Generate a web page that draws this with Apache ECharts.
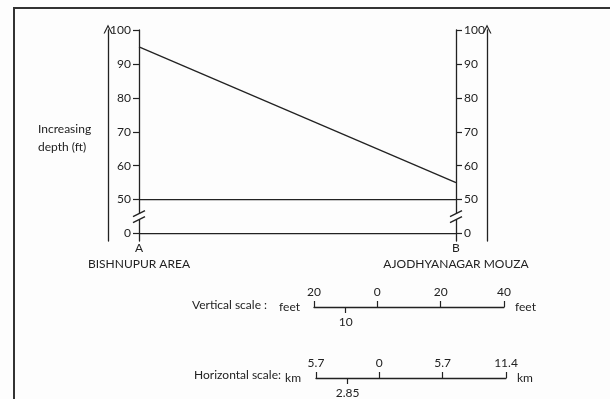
<!DOCTYPE html>
<html>
<head>
<meta charset="utf-8">
<script src="https://cdn.jsdelivr.net/npm/echarts@6/dist/echarts.min.js"></script>
<style>
  html, body { margin: 0; padding: 0; background: #fdfdfd; }
  #profile { width: 610px; height: 399px; }
</style>
</head>
<body>
<div id="profile"></div>
<script>
// stations along the section and their depth (ft)
var stations = ["A", "B"];
var places = ["BISHNUPUR AREA", "AJODHYANAGAR MOUZA"];
var depths = [95, 55];
// depth ticks (axis is broken between 0 and 50)
var depthTicks = [0, 50, 60, 70, 80, 90, 100];
var refLevels = [0, 50];
// scale bars
var feetTicks = [-20, 0, 20, 40];
var feetMinor = [-10];
var kmTicks = [-5.7, 0, 5.7, 11.4];
var kmMinor = [-2.85];

var ink = "#222";
var font = "Lato";

// map a depth onto the broken axis (0 -> 0, 50 -> 1, then 10 ft per step)
function toAxis(v) {
  return v >= 50 ? (v - 50) / 10 + 1 : v / 50;
}
var tickPos = depthTicks.map(toAxis);
var breakPos = (toAxis(0) + toAxis(50)) / 2;

var chevron = "path://M0,10 L5,0 L10,10 L8.6,10 L5,2.8 L1.4,10 Z";

var myChart = echarts.init(document.getElementById("profile"));

function depthAxis(pos, show) {
  return {
    type: "value",
    gridIndex: 0,
    position: pos,
    min: -0.22,
    max: 6,
    axisLine: { show: show, lineStyle: { color: ink, width: 1.3 } },
    axisTick: {
      show: show,
      customValues: tickPos,
      length: 6,
      lineStyle: { color: ink, width: 1.2 }
    },
    axisLabel: {
      show: show,
      customValues: tickPos,
      margin: 8,
      color: ink,
      fontFamily: font,
      fontSize: 12,
      formatter: function (v) {
        var i = tickPos.indexOf(v);
        return i >= 0 ? String(depthTicks[i]) : "";
      }
    },
    splitLine: { show: false }
  };
}

function arrowAxis(pos) {
  return {
    type: "value",
    gridIndex: 0,
    position: pos,
    offset: 31,
    min: -0.22,
    max: 6,
    axisLine: {
      show: true,
      symbol: ["none", chevron],
      symbolSize: [9, 9],
      symbolOffset: [0, 1],
      lineStyle: { color: ink, width: 1.3 }
    },
    axisTick: { show: false },
    axisLabel: { show: false },
    splitLine: { show: false }
  };
}

function scaleAxes(grid, ticks, minor, unit, nameGaps) {
  var lo = ticks[0], hi = ticks[ticks.length - 1];
  return [
    {
      type: "value",
      gridIndex: grid,
      position: "bottom",
      min: lo,
      max: hi,
      name: unit,
      nameLocation: "end",
      nameGap: nameGaps[1],
      nameTextStyle: { color: ink, fontFamily: font, fontSize: 12, padding: [4, 0, 0, 0] },
      axisLine: { show: true, lineStyle: { color: ink, width: 1.3 } },
      axisTick: { show: true, inside: true, length: 6, customValues: ticks, lineStyle: { color: ink, width: 1.2 } },
      axisLabel: {
        show: true, inside: true, margin: 9, customValues: ticks,
        color: ink, fontFamily: font, fontSize: 12,
        formatter: function (v) { return String(Math.abs(v)); }
      },
      splitLine: { show: false }
    },
    {
      type: "value",
      gridIndex: grid,
      position: "bottom",
      offset: 0,
      min: lo,
      max: hi,
      name: unit,
      nameLocation: "start",
      nameGap: nameGaps[0],
      nameTextStyle: { color: ink, fontFamily: font, fontSize: 12, padding: [6, 0, 0, 0] },
      axisLine: { show: false },
      axisTick: { show: true, length: 6, customValues: minor, lineStyle: { color: ink, width: 1.2 } },
      axisLabel: {
        show: true, margin: 9, customValues: minor,
        color: ink, fontFamily: font, fontSize: 12,
        formatter: function (v) { return String(Math.abs(v)); }
      },
      splitLine: { show: false }
    }
  ];
}

var xAxes = [
  {
    type: "value",
    gridIndex: 0,
    min: 0,
    max: 1,
    axisLine: { show: false },
    axisTick: { show: false },
    splitLine: { show: false },
    axisLabel: {
      customValues: [0, 1],
      margin: 0,
      color: ink,
      fontFamily: font,
      formatter: function (v) {
        return "{s|" + stations[v] + "}\n{p|" + places[v] + "}";
      },
      rich: {
        s: { fontFamily: font, fontSize: 12, color: ink, lineHeight: 15, align: "center" },
        p: { fontFamily: font, fontSize: 12, color: ink, lineHeight: 17, align: "center" }
      }
    }
  }
].concat(scaleAxes(1, feetTicks, feetMinor, "feet", [14, 11]))
 .concat(scaleAxes(2, kmTicks, kmMinor, "km", [15, 11]));

var hiddenY = function (g) {
  return { type: "value", gridIndex: g, show: false, min: 0, max: 1 };
};

var option = {
  backgroundColor: "#fdfdfd",
  animation: false,
  grid: [
    { left: 139, right: 154, top: 30, bottom: 158 },
    { left: 314, width: 190, top: 306, height: 1 },
    { left: 316, width: 190, top: 377, height: 1 }
  ],
  xAxis: xAxes,
  yAxis: [
    depthAxis("left", true),
    depthAxis("right", true),
    arrowAxis("left"),
    arrowAxis("right"),
    hiddenY(1),
    hiddenY(2)
  ],
  graphic: [
    {
      type: "polyline",
      shape: { points: [[14, 399], [14, 8], [610, 8]] },
      style: { stroke: "#333", lineWidth: 2, fill: null }
    },
    {
      type: "text", left: 38, top: 120,
      style: { text: "Increasing\ndepth (ft)", fill: ink, font: "12px " + font, lineHeight: 18 }
    },
    {
      type: "text", left: 192, top: 299,
      style: { text: "Vertical scale :", fill: ink, font: "12px " + font }
    },
    {
      type: "text", left: 194, top: 369,
      style: { text: "Horizontal scale:", fill: ink, font: "12px " + font }
    }
  ],
  series: [
    {
      name: "Depth profile",
      type: "line",
      xAxisIndex: 0,
      yAxisIndex: 0,
      symbol: "none",
      lineStyle: { color: ink, width: 1.3 },
      data: depths.map(function (d, i) { return [i, toAxis(d)]; })
    }
  ].concat(refLevels.map(function (lv) {
    return {
      name: "Level " + lv,
      type: "line",
      xAxisIndex: 0,
      yAxisIndex: 0,
      symbol: "none",
      lineStyle: { color: ink, width: 1.3 },
      data: [[0, toAxis(lv)], [1, toAxis(lv)]]
    };
  })).concat([
    {
      // axis break marks
      name: "Breaks",
      type: "custom",
      xAxisIndex: 0,
      yAxisIndex: 0,
      renderItem: function (params, api) {
        var p = api.coord([api.value(0), api.value(1)]);
        var mk = function (dy) {
          return {
            type: "line",
            shape: { x1: p[0] - 6, y1: p[1] + 3 + dy, x2: p[0] + 6, y2: p[1] - 3 + dy },
            style: { stroke: ink, lineWidth: 1.3 }
          };
        };
        return {
          type: "group",
          children: [
            {
              type: "rect",
              shape: { x: p[0] - 2, y: p[1] - 3, width: 4, height: 6 },
              style: { fill: "#fdfdfd" }
            },
            mk(-3),
            mk(3)
          ]
        };
      },
      data: [[0, breakPos], [1, breakPos]]
    }
  ])
};

myChart.setOption(option);
window.onresize = function () {
  myChart.resize();
};
</script>
</body>
</html>
